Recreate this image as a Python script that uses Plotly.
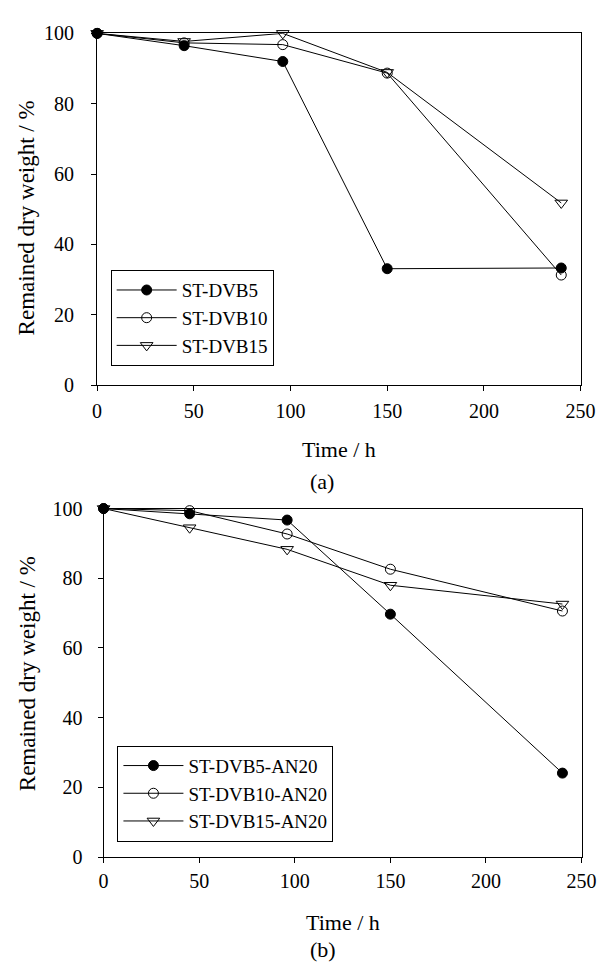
import plotly.graph_objects as go

# page body has an 8px default margin, so lay out in screen pixels minus that offset
OFF = 8
W, H = 613 - OFF, 971 - OFF

# ---- data ----
time_h = [0, 45, 96, 150, 240]

a_names = ["ST-DVB5", "ST-DVB10", "ST-DVB15"]
a_dvb5 = [100, 96.5, 92.0, 33.1, 33.3]
a_dvb10 = [100, 97.3, 96.8, 88.7, 31.3]
a_dvb15 = [100, 97.7, 100, 88.9, 51.8]

b_names = ["ST-DVB5-AN20", "ST-DVB10-AN20", "ST-DVB15-AN20"]
b_dvb5 = [100, 98.5, 96.7, 69.7, 24.1]
b_dvb10 = [100, 99.4, 92.7, 82.6, 70.6]
b_dvb15 = [100, 94.5, 88.3, 78.0, 72.6]

x_ticks = [0, 50, 100, 150, 200, 250]
y_ticks = [0, 20, 40, 60, 80, 100]

FONT = "Liberation Serif"

styles = [
    dict(symbol="circle", size=10),
    dict(symbol="circle-open", size=10),
    dict(symbol="triangle-down-open", size=11),
]

fig = go.Figure()

def add_series(names, series, xa, ya, legend):
    for name, ys, st in zip(names, series, styles):
        fig.add_trace(go.Scatter(
            x=time_h, y=ys, name=name, mode="lines+markers",
            xaxis=xa, yaxis=ya, legend=legend, cliponaxis=False,
            line=dict(color="black", width=1),
            marker=dict(symbol=st["symbol"], size=st["size"], color="black",
                        line=dict(color="black", width=1)),
        ))

add_series(a_names, [a_dvb5, a_dvb10, a_dvb15], "x", "y", "legend")
add_series(b_names, [b_dvb5, b_dvb10, b_dvb15], "x2", "y2", "legend2")

def px(v):
    return (v - OFF) / W

def py(v):
    return 1 - (v - OFF) / H

axis_common = dict(
    showline=True, mirror=True, linecolor="black", linewidth=1,
    ticks="outside", ticklen=5, tickwidth=1, tickcolor="black",
    showgrid=False, zeroline=False,
    tickfont=dict(family=FONT, size=20, color="black"),
)

legend_common = dict(
    xanchor="left", yanchor="top", bordercolor="black", borderwidth=1,
    bgcolor="white", itemwidth=60,
    font=dict(family=FONT, size=19, color="black"),
)

fig.update_layout(
    width=W, height=H,
    margin=dict(l=0, r=0, t=0, b=0),
    paper_bgcolor="white", plot_bgcolor="white",
    font=dict(family=FONT, color="black"),
    xaxis=dict(domain=[px(95), px(595)], range=[0, 250], tickvals=x_ticks,
               anchor="y", ticklabelstandoff=3, **axis_common),
    yaxis=dict(domain=[py(382.7), py(22.7)], range=[0, 100], tickvals=y_ticks,
               anchor="x", ticklabelstandoff=13, **axis_common),
    xaxis2=dict(domain=[px(101.7), px(596)], range=[0, 250], tickvals=x_ticks,
                anchor="y2", ticklabelstandoff=1, **axis_common),
    yaxis2=dict(domain=[py(865.7), py(509)], range=[0, 100], tickvals=y_ticks,
                anchor="x2", ticklabelstandoff=11, **axis_common),
    legend=dict(x=px(109), y=py(265), entrywidth=206, **legend_common),
    legend2=dict(x=px(116), y=py(751.7), entrywidth=274, **legend_common),
    showlegend=True,
)

ann_font = dict(family=FONT, size=22, color="black")
ylab_font = dict(family=FONT, size=23, color="black")
anns = [
    dict(text="Time / h", x=px(345), y=py(449), font=ann_font),
    dict(text="(a)", x=px(327.5), y=py(481), font=ann_font),
    dict(text="Time / h", x=px(349), y=py(933), font=ann_font),
    dict(text="(b)", x=px(329), y=py(960), font=ann_font),
    dict(text="Remained dry weight / %", x=px(22), y=py(211.5), textangle=-90, font=ylab_font),
    dict(text="Remained dry weight / %", x=px(23), y=py(678), textangle=-90, font=ylab_font),
]
for a in anns:
    fig.add_annotation(xref="paper", yref="paper", showarrow=False,
                       xanchor="center", yanchor="middle", **a)

fig.write_html("out.html")
